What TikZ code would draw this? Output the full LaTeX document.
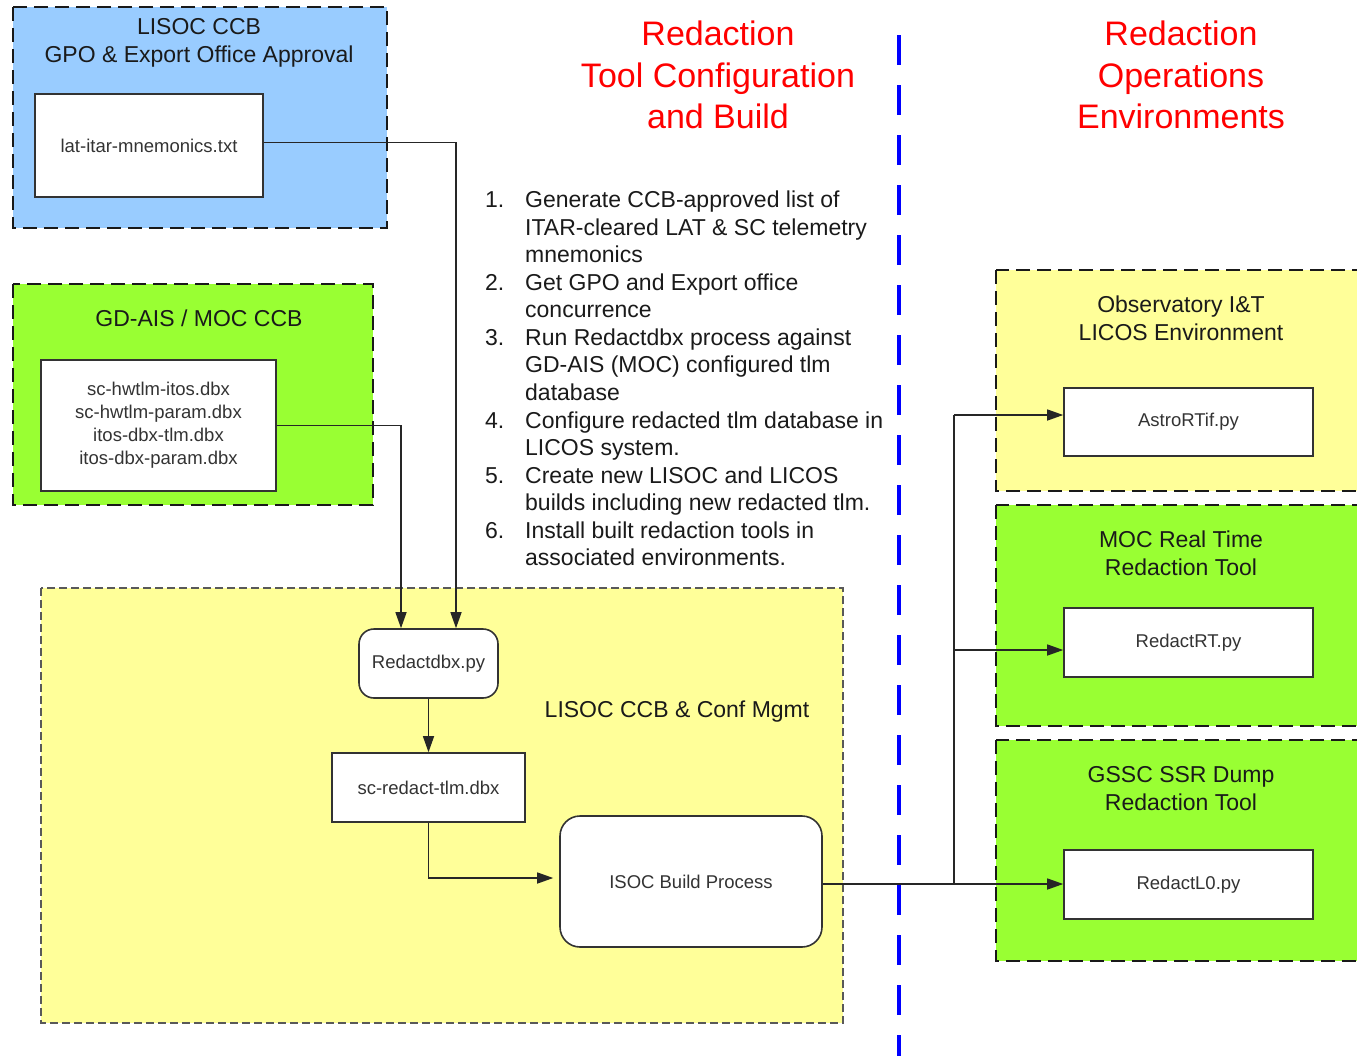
\documentclass[tikz,border=0pt]{standalone}
\usepackage{fontspec}
\setmainfont{Liberation Sans}
\usetikzlibrary{arrows.meta}
\definecolor{bluefill}{HTML}{99CCFF}
\definecolor{greenfill}{HTML}{99FF33}
\definecolor{yellowfill}{HTML}{FFFF99}
\definecolor{txtcol}{HTML}{1A1A1A}
\definecolor{boxtxt}{HTML}{333333}
\newcommand{\mylines}[1]{\vtop{\baselineskip=27.55pt #1}}
\begin{document}
\begin{tikzpicture}[x=1pt,y=-1pt,
  region/.style={draw=black!90, line width=2.6pt, dash pattern=on 14pt off 7pt},
  outerregion/.style={draw=black!65, line width=1.4pt, dash pattern=on 8pt off 4pt},
  filebox/.style={draw=black!80, line width=1.6pt, fill=white, text=boxtxt,
    font=\fontsize{18.5}{23}\selectfont, inner sep=0pt, align=center},
  procbox/.style={filebox, rounded corners=15pt},
  regtitle/.style={font=\fontsize{23}{28}\selectfont, text=txtcol, align=center},
  redtitle/.style={font=\fontsize{34}{41.5}\selectfont, text=red, align=center},
  steptext/.style={font=\fontsize{23}{27.55}\selectfont, text=txtcol, anchor=base west, inner sep=0pt},
  conn/.style={line width=1.4pt, draw=black!85, -{Triangle[length=16pt,width=11pt]}},
  plainconn/.style={line width=1.4pt, draw=black!85},
  divider/.style={draw=blue, line width=3.5pt, dash pattern=on 30pt off 20pt}
]
\clip (0,0) rectangle (1357,1055);
\fill[white] (0,0) rectangle (1357,1055);

% regions
\path[region, fill=bluefill] (13,7) rectangle (387,228);
\path[region, fill=greenfill] (13,284) rectangle (373,505);
\path[outerregion, fill=yellowfill] (41,588) rectangle (843,1023);
\path[region, fill=yellowfill] (996,270) rectangle (1380,491);
\path[region, fill=greenfill] (996,505) rectangle (1380,726);
\path[region, fill=greenfill] (996,740) rectangle (1380,961);

% divider
\draw[divider] (899,35) -- (899,1070);

% titles
\node[redtitle] (lefthead) at (718,75) {Redaction\\Tool Configuration\\and Build};
\node[redtitle] (righthead) at (1181,75) {Redaction\\Operations\\Environments};

\node[regtitle] (lisoc) at (199,43) {LISOC CCB\\GPO \& Export Office Approval};
\node[regtitle] (gdais) at (199,318) {GD-AIS / MOC CCB};
\node[regtitle] (confmgmt) at (677,712) {LISOC CCB \& Conf Mgmt};
\node[regtitle] (obs) at (1181,318.5) {Observatory I\&T\\LICOS Environment};
\node[regtitle] (moc) at (1181,553.5) {MOC Real Time\\Redaction Tool};
\node[regtitle] (gssc) at (1181,788.5) {GSSC SSR Dump\\Redaction Tool};

% steps
\node[steptext] (n1) at (485,207.5) {1.};
\node[steptext] (s1) at (525,207.5) {\mylines{\hbox{Generate CCB-approved list of}\hbox{ITAR-cleared LAT \& SC telemetry}\hbox{mnemonics}}};
\node[steptext] (n2) at (485,290) {2.};
\node[steptext] (s2) at (525,290) {\mylines{\hbox{Get GPO and Export office}\hbox{concurrence}}};
\node[steptext] (n3) at (485,345) {3.};
\node[steptext] (s3) at (525,345) {\mylines{\hbox{Run Redactdbx process against}\hbox{GD-AIS (MOC) configured tlm}\hbox{database}}};
\node[steptext] (n4) at (485,428) {4.};
\node[steptext] (s4) at (525,428) {\mylines{\hbox{Configure redacted tlm database in}\hbox{LICOS system.}}};
\node[steptext] (n5) at (485,483) {5.};
\node[steptext] (s5) at (525,483) {\mylines{\hbox{Create new LISOC and LICOS}\hbox{builds including new redacted tlm.}}};
\node[steptext] (n6) at (485,538) {6.};
\node[steptext] (s6) at (525,538) {\mylines{\hbox{Install built redaction tools in}\hbox{associated environments.}}};

% boxes
\node[filebox, minimum width=228pt, minimum height=103pt] (lat) at (149,145.5) {lat-itar-mnemonics.txt};
\node[filebox, minimum width=235pt, minimum height=131pt] (dbx) at (158.5,425.5)
  {sc-hwtlm-itos.dbx\\sc-hwtlm-param.dbx\\itos-dbx-tlm.dbx\\itos-dbx-param.dbx};
\node[procbox, minimum width=139pt, minimum height=69pt] (rdb) at (428.5,663.5) {Redactdbx.py};
\node[filebox, minimum width=193pt, minimum height=69pt] (scred) at (428.5,787.5) {sc-redact-tlm.dbx};
\node[procbox, rounded corners=20pt, minimum width=262pt, minimum height=131pt] (isoc) at (691,881.5) {ISOC Build Process};
\node[filebox, minimum width=249pt, minimum height=68pt] (astro) at (1188.5,422) {AstroRTif.py};
\node[filebox, minimum width=249pt, minimum height=69pt] (rt) at (1188.5,642.5) {RedactRT.py};
\node[filebox, minimum width=249pt, minimum height=69pt] (l0) at (1188.5,884.5) {RedactL0.py};

% connectors
\draw[conn] ([yshift=3pt]lat.east) -| ([xshift=27.5pt]rdb.north);
\draw[conn] (dbx.east) -| ([xshift=-27.5pt]rdb.north);
\draw[conn] (rdb.south) -- (scred.north);
\draw[conn] (scred.south) |- ([yshift=3.5pt,xshift=-6pt]isoc.west);
\coordinate (bus) at (954,884);
\coordinate (busA) at (954,415);
\coordinate (busR) at (954,650);
\draw[plainconn] (isoc.east |- bus) -- (bus);
\draw[conn] (bus) -- (bus -| l0.west);
\draw[plainconn] (bus) -- (busA);
\draw[conn] (busA) -- (busA -| astro.west);
\draw[conn] (busR) -- (busR -| rt.west);
\end{tikzpicture}
\end{document}
